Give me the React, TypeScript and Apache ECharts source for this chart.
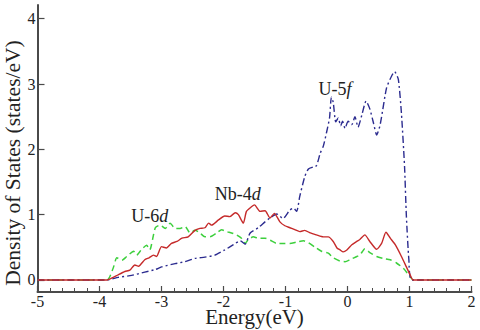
import React, { useEffect, useRef } from "react";
import * as echarts from "echarts";

const xTicks = [-5, -4, -3, -2, -1, 0, 1, 2];
const yTicks = [0, 1, 2, 3, 4];

const nbE = [-5, -3.88, -3.78, -3.7, -3.59, -3.51, -3.43, -3.37, -3.27, -3.2, -3.13, -3.08, -3.0, -2.92, -2.84, -2.75, -2.67, -2.57, -2.46, -2.38, -2.3, -2.24, -2.19, -2.08, -1.98, -1.9, -1.81, -1.76, -1.68, -1.63, -1.55, -1.5, -1.41, -1.33, -1.25, -1.18, -1.09, -1.01, -0.93, -0.85, -0.77, -0.69, -0.6, -0.5, -0.39, -0.31, -0.23, -0.17, -0.12, -0.07, -0.01, 0.07, 0.15, 0.2, 0.28, 0.36, 0.47, 0.55, 0.62, 0.69, 0.77, 0.87, 0.95, 1.01, 1.06, 2];
const nbDos = [0, 0, 0.04, 0.08, 0.13, 0.15, 0.23, 0.21, 0.31, 0.34, 0.38, 0.36, 0.51, 0.49, 0.56, 0.59, 0.64, 0.66, 0.76, 0.79, 0.8, 0.87, 0.84, 0.92, 0.98, 0.97, 1.03, 1.0, 0.87, 1.05, 1.12, 1.15, 1.05, 1.06, 0.95, 1.02, 0.89, 0.83, 0.8, 0.77, 0.74, 0.76, 0.72, 0.69, 0.66, 0.66, 0.59, 0.49, 0.46, 0.43, 0.46, 0.54, 0.59, 0.62, 0.69, 0.59, 0.47, 0.56, 0.73, 0.64, 0.54, 0.36, 0.2, 0.08, 0, 0];

const u6dE = [-5, -3.88, -3.78, -3.72, -3.64, -3.56, -3.45, -3.4, -3.32, -3.24, -3.19, -3.1, -3.02, -2.94, -2.86, -2.78, -2.7, -2.62, -2.54, -2.46, -2.38, -2.3, -2.22, -2.11, -2.03, -1.95, -1.87, -1.79, -1.71, -1.65, -1.6, -1.52, -1.44, -1.33, -1.25, -1.14, -1.04, -0.93, -0.82, -0.71, -0.63, -0.52, -0.42, -0.31, -0.23, -0.12, -0.04, 0.04, 0.15, 0.2, 0.28, 0.36, 0.47, 0.58, 0.69, 0.79, 0.9, 1.01, 1.06, 2];
const u6dDos = [0, 0, 0.18, 0.34, 0.3, 0.36, 0.44, 0.38, 0.47, 0.53, 0.46, 0.8, 0.84, 0.79, 0.87, 0.79, 0.79, 0.82, 0.72, 0.76, 0.72, 0.66, 0.66, 0.72, 0.77, 0.74, 0.72, 0.69, 0.64, 0.56, 0.62, 0.66, 0.64, 0.64, 0.61, 0.56, 0.56, 0.56, 0.58, 0.6, 0.57, 0.5, 0.44, 0.41, 0.34, 0.29, 0.28, 0.31, 0.36, 0.38, 0.48, 0.42, 0.36, 0.33, 0.31, 0.26, 0.18, 0.05, 0, 0];

const u5fE = [-5, -3.88, -3.7, -3.48, -3.27, -3.1, -3.0, -2.78, -2.62, -2.46, -2.3, -2.14, -1.98, -1.84, -1.73, -1.65, -1.57, -1.44, -1.33, -1.25, -1.14, -1.04, -0.93, -0.87, -0.82, -0.77, -0.69, -0.63, -0.55, -0.5, -0.44, -0.39, -0.34, -0.29, -0.26, -0.23, -0.19, -0.15, -0.11, -0.08, -0.04, 0.01, 0.07, 0.12, 0.17, 0.23, 0.3, 0.36, 0.42, 0.47, 0.52, 0.55, 0.63, 0.71, 0.76, 0.82, 0.87, 0.92, 0.95, 0.99, 1.04, 2];
const u5fDos = [0, 0, 0.04, 0.07, 0.12, 0.16, 0.2, 0.25, 0.28, 0.33, 0.35, 0.38, 0.46, 0.54, 0.6, 0.55, 0.72, 0.8, 0.89, 0.95, 1.01, 0.94, 1.07, 1.1, 1.05, 1.28, 1.58, 1.7, 1.73, 1.75, 1.94, 2.05, 2.25, 2.48, 2.8, 2.72, 2.42, 2.48, 2.36, 2.43, 2.32, 2.43, 2.38, 2.5, 2.34, 2.52, 2.74, 2.62, 2.4, 2.22, 2.35, 2.5, 2.94, 3.12, 3.19, 3.07, 2.55, 1.74, 0.97, 0.31, 0, 0];

const labelNames = ["Nb-4", "U-6", "U-5"];
const labelOrbitals = ["d", "d", "f"];
const labelAt = [
  [-1.77, 1.32],
  [-3.19, 0.98],
  [-0.2, 2.93],
];

const FONT = "'Liberation Serif', 'DejaVu Serif', serif";

const pairs = (xs: number[], ys: number[]) => xs.map((x, i) => [x, ys[i]]);

export default function App() {
  const ref = useRef<HTMLDivElement>(null);
  useEffect(() => {
    if (!ref.current) return;
    const chart = echarts.init(ref.current, null, { renderer: "svg" });
    const axisColor = "#4a4a4a";
    chart.setOption({
      animation: false,
      backgroundColor: "#ffffff",
      grid: { left: 37.5, right: 8.5, top: 5, bottom: 38, containLabel: false, outerBoundsMode: "none" },
      xAxis: {
        type: "value",
        min: -5,
        max: 2,
        interval: 1,
        axisLine: { onZero: false, lineStyle: { color: axisColor, width: 2 } },
        axisTick: { inside: true, length: 6, lineStyle: { color: axisColor, width: 1.2 } },
        minorTick: { show: true, splitNumber: 5, length: 4, lineStyle: { color: axisColor, width: 1 } },
        splitLine: { show: false },
        axisLabel: {
          fontFamily: FONT,
          fontSize: 16,
          color: "#222",
          margin: 1,
          formatter: (v: number) => (xTicks.includes(v) ? String(v) : ""),
        },
        name: "Energy(eV)",
        nameLocation: "middle",
        nameGap: 14,
        nameMoveOverlap: false,
        nameTextStyle: { fontFamily: FONT, fontSize: 21, color: "#222", verticalAlign: "top" },
      },
      yAxis: {
        type: "value",
        min: -0.184,
        max: 4.21,
        axisLine: { show: true, onZero: false, lineStyle: { color: axisColor, width: 2 } },
        axisTick: { inside: true, length: 7, customValues: yTicks, lineStyle: { color: axisColor, width: 1.2 } },
        splitLine: { show: false },
        axisLabel: {
          fontFamily: FONT,
          fontSize: 16,
          color: "#222",
          margin: 2,
          customValues: yTicks,
        },
      },
      series: [
        {
          name: "U-5f",
          type: "line",
          data: pairs(u5fE, u5fDos),
          showSymbol: false,
          smooth: 0.2,
          lineStyle: { color: "#2b2b8f", width: 1.4, type: [7, 3, 2, 3] },
          z: 3,
        },
        {
          name: "U-6d",
          type: "line",
          data: pairs(u6dE, u6dDos),
          showSymbol: false,
          smooth: 0.2,
          lineStyle: { color: "#3ccf3c", width: 1.5, type: [6, 4] },
          z: 2,
        },
        {
          name: "Nb-4d",
          type: "line",
          data: pairs(nbE, nbDos),
          showSymbol: false,
          smooth: 0.2,
          lineStyle: { color: "#c52a2a", width: 1.4 },
          z: 4,
        },
      ],
    });
    const texts: any[] = labelNames.map((n, i) => {
      const p = chart.convertToPixel({ gridIndex: 0 }, labelAt[i]) as number[];
      return {
        type: "text",
        x: p[0],
        y: p[1],
        style: {
          text: n + "{i|" + labelOrbitals[i] + "}",
          fontFamily: FONT,
          fontSize: 18,
          fill: "#222",
          align: "center",
          verticalAlign: "middle",
          rich: { i: { fontFamily: FONT, fontSize: 18, fontStyle: "italic", fill: "#222" } },
        },
      };
    });
    texts.push({
      type: "text",
      x: 13,
      y: 163,
      rotation: Math.PI / 2,
      style: {
        text: "Density of States (states/eV)",
        fontFamily: FONT,
        fontSize: 21.5,
        fill: "#222",
        align: "center",
        verticalAlign: "middle",
      },
    });
    chart.setOption({ graphic: texts });
    return () => chart.dispose();
  }, []);
  return (
    <div
      ref={ref}
      style={{ position: "fixed", left: 0, top: 0, width: 480, height: 330 }}
    />
  );
}
